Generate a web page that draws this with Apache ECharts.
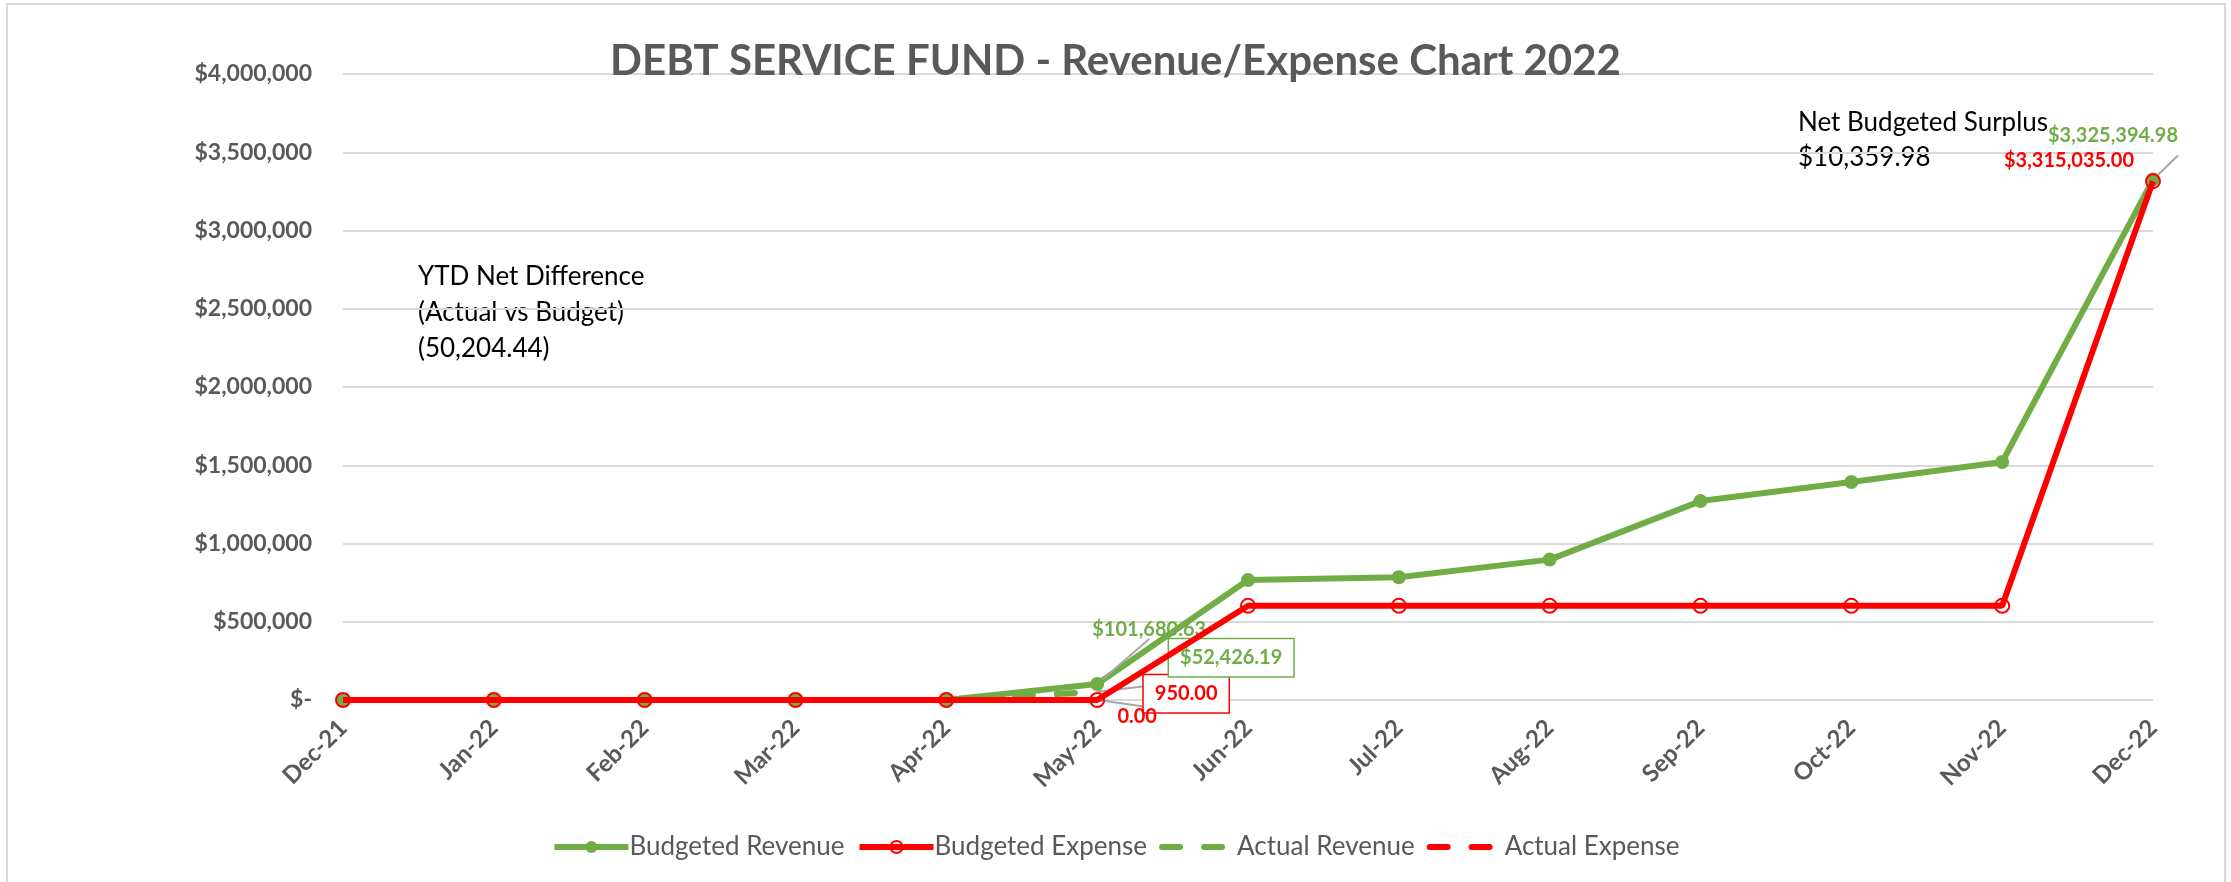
<!DOCTYPE html>
<html>
<head>
<meta charset="utf-8">
<script src="https://cdn.jsdelivr.net/npm/echarts@6/dist/echarts.min.js"></script>
<style>
  html, body { margin: 0; padding: 0; background: #fff; }
  #chart { width: 2231px; height: 882px; }
</style>
</head>
<body>
<div id="chart"></div>
<script>
// DEBT SERVICE FUND - revenue / expense 2022
var months = ["Dec-21", "Jan-22", "Feb-22", "Mar-22", "Apr-22", "May-22",
  "Jun-22", "Jul-22", "Aug-22", "Sep-22", "Oct-22", "Nov-22", "Dec-22"];
var budgetedRevenue = [0, 0, 0, 0, 0, 101680.63, 767000, 784000, 897000,
  1271000, 1393000, 1521000, 3325394.98];
var budgetedExpense = [0, 0, 0, 0, 0, 0, 602000, 602000, 602000,
  602000, 602000, 602000, 3315035.00];
var actualRevenue = [0, 0, 0, 0, 0, 52426.19];
var actualExpense = [0, 0, 0, 0, 0, 950.00];

var ytdNote = "YTD Net Difference\n(Actual vs Budget)\n(50,204.44)";
var surplusNote = "Net Budgeted Surplus\n$10,359.98";

var GREEN = "#70ad47";
var RED = "#ff0000";
var GREY = "#595959";
var FONT = "Lato, 'Open Sans', sans-serif";

var myChart = echarts.init(document.getElementById("chart"));

function money(v, dollar) {
  var s = v.toLocaleString("en-US", { minimumFractionDigits: 2, maximumFractionDigits: 2 });
  return dollar ? "$" + s : s;
}

// which points get a data label, and how it is shifted/boxed
function labelled(values, marks, color) {
  return values.map(function (v, i) {
    var m = marks[i];
    if (!m) return v;
    return {
      value: v,
      label: {
        show: true,
        position: "inside",
        offset: m.offset,
        formatter: money(v, m.dollar),
        color: color,
        fontFamily: FONT,
        fontWeight: "bold",
        fontSize: 20,
        borderColor: m.box ? color : "transparent",
        borderWidth: m.box ? 1.5 : 0,
        backgroundColor: m.box ? "#fff" : "transparent",
        padding: m.box ? [9, 11, 8, 11] : 0
      },
      labelLine: { show: !!m.line, lineStyle: { color: "#a6a6a6", width: 2 } }
    };
  });
}

var option = {
  animation: false,
  backgroundColor: "#fff",
  title: {
    text: "DEBT SERVICE FUND - Revenue/Expense Chart 2022",
    left: "center",
    top: 35,
    textStyle: { fontFamily: FONT, fontSize: 42, fontWeight: "bold", color: GREY }
  },
  grid: { left: 343, right: 78, top: 74, bottom: 182 },
  legend: {
    bottom: 17,
    left: "center",
    itemWidth: 74,
    itemHeight: 15,
    itemGap: 12,
    lineStyle: { width: 6 },
    textStyle: { fontFamily: FONT, fontSize: 26, color: GREY, padding: [0, 0, 0, -4] },
    data: [
      "Budgeted Revenue",
      "Budgeted Expense",
      { name: "Actual Revenue", itemStyle: { opacity: 0 } },
      { name: "Actual Expense", itemStyle: { opacity: 0 } }
    ]
  },
  xAxis: {
    type: "category",
    data: months,
    boundaryGap: false,
    axisLine: { show: false },
    axisTick: { show: false },
    axisLabel: {
      rotate: 45,
      margin: 24,
      fontFamily: FONT,
      fontSize: 24,
      fontWeight: "bold",
      color: GREY
    }
  },
  yAxis: {
    type: "value",
    min: 0,
    max: 4000000,
    interval: 500000,
    axisLine: { show: false },
    axisTick: { show: false },
    splitLine: { lineStyle: { color: "#d9d9d9", width: 2 } },
    axisLabel: {
      margin: 31,
      fontFamily: FONT,
      fontSize: 23,
      fontWeight: "bold",
      color: GREY,
      formatter: function (v) {
        return v === 0 ? "$-" : "$" + v.toLocaleString("en-US");
      }
    }
  },
  graphic: [
    {
      type: "rect",
      shape: { x: 7, y: 4, width: 2218, height: 890 },
      style: { fill: "none", stroke: "#d9d9d9", lineWidth: 2 },
      silent: true
    },
    {
      type: "text",
      left: 418,
      top: 259,
      style: { text: ytdNote, fontFamily: FONT, fontSize: 26, lineHeight: 36, fill: "#000" }
    },
    {
      type: "text",
      left: 1798,
      top: 105,
      style: { text: surplusNote, fontFamily: FONT, fontSize: 26, lineHeight: 35, fill: "#000" }
    }
  ],
  series: [
    {
      name: "Actual Expense",
      type: "line",
      data: labelled(actualExpense, { 5: { offset: [89, -6], box: true, line: true } }, RED),
      symbol: "circle",
      symbolSize: 1,
      lineStyle: { color: RED, width: 6, type: [18, 24], cap: "round" },
      itemStyle: { color: RED },
      z: 1
    },
    {
      name: "Actual Revenue",
      type: "line",
      data: labelled(actualRevenue, { 5: { offset: [134, -34], dollar: true, box: true, line: true } }, GREEN),
      symbol: "circle",
      symbolSize: 1,
      lineStyle: { color: GREEN, width: 6, type: [18, 24], cap: "round" },
      itemStyle: { color: GREEN },
      z: 1
    },
    {
      name: "Budgeted Revenue",
      type: "line",
      data: labelled(budgetedRevenue, {
        5: { offset: [52, -55], dollar: true, line: true },
        12: { offset: [-40, -44], dollar: true, line: true }
      }, GREEN),
      symbol: "circle",
      symbolSize: 14,
      lineStyle: { color: GREEN, width: 6 },
      itemStyle: { color: GREEN },
      z: 2
    },
    {
      name: "Budgeted Expense",
      type: "line",
      data: labelled(budgetedExpense, {
        5: { offset: [40, 17] },
        12: { offset: [-84, -21], dollar: true }
      }, RED),
      symbol: "circle",
      symbolSize: 14,
      lineStyle: { color: RED, width: 6 },
      itemStyle: { color: "rgba(255,255,255,0)", borderWidth: 2, borderColor: RED },
      z: 3
    }
  ]
};

myChart.setOption(option);
window.addEventListener("resize", function () {
  myChart.resize();
});
</script>
</body>
</html>
